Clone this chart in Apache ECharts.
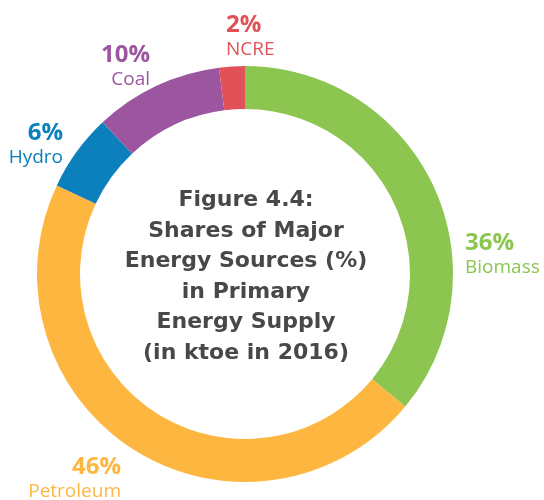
<!DOCTYPE html>
<html>
<head>
<meta charset="utf-8">
<script src="https://cdn.jsdelivr.net/npm/echarts@6/dist/echarts.min.js"></script>
<style>
  html, body { margin: 0; padding: 0; background: #fff; }
  #chart { width: 544px; height: 500px; }
</style>
</head>
<body>
<div id="chart"></div>
<script>
// energy sources, clockwise from 12 o'clock
var sources = ['Biomass', 'Petroleum', 'Hydro', 'Coal', 'NCRE']
var shares = [36, 46, 6, 10, 2]
var colors = ['#8cc54f', '#fdb740', '#0c80bd', '#9c56a0', '#e05258']

// where each label block sits (x, middle y, alignment)
var labelPos = [
  [465, 255, 'left'],
  [121, 479, 'right'],
  [63, 145, 'right'],
  [150, 67, 'right'],
  [226, 37, 'left']
]

var centerTitle = 'Figure 4.4:\nShares of Major\nEnergy Sources (%)\nin Primary\nEnergy Supply\n(in ktoe in 2016)'

var myChart = echarts.init(document.getElementById('chart'))

var option = {
  animation: false,
  graphic: [
    {
      type: 'text',
      x: 246,
      y: 277,
      style: {
        text: centerTitle,
        fill: '#47484a',
        font: 'bold 22px "DejaVu Sans"',
        lineHeight: 30.5,
        align: 'center',
        verticalAlign: 'middle'
      }
    }
  ],
  series: [
    {
      type: 'pie',
      center: [245, 274],
      radius: [165, 208],
      startAngle: 90,
      clockwise: true,
      avoidLabelOverlap: false,
      labelLine: { show: false },
      label: {
        show: true,
        position: 'outside',
        formatter: function (p) {
          return '{pct|' + p.value + '%}\n{name|' + p.name + '}'
        },
        rich: {
          pct: {
            fontFamily: 'Open Sans',
            fontWeight: 'bold',
            fontSize: 24,
            lineHeight: 26
          },
          name: {
            fontFamily: 'Open Sans',
            fontSize: 19,
            lineHeight: 24
          }
        }
      },
      labelLayout: function (params) {
        var p = labelPos[params.dataIndex]
        return { x: p[0], y: p[1], align: p[2], verticalAlign: 'middle' }
      },
      data: sources.map(function (s, i) {
        return {
          name: s,
          value: shares[i],
          itemStyle: { color: colors[i] },
          label: { color: colors[i] }
        }
      })
    }
  ]
}

myChart.setOption(option)
</script>
</body>
</html>
